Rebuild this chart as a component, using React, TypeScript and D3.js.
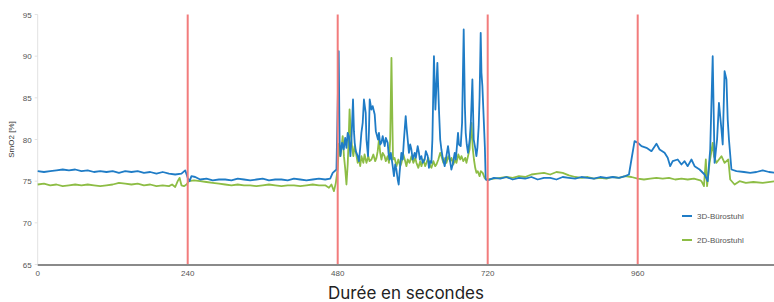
import React from "react";
import * as d3 from "d3";

const xTicks = [0, 240, 480, 720, 960];
const yTicks = [65, 70, 75, 80, 85, 90, 95];
const markers = [240, 480, 720, 960];
const seriesNames = ["3D-Bürostuhl", "2D-Bürostuhl"];

const blueT = [0,10,20,30,40,50,60,70,80,90,100,110,120,130,140,150,160,170,180,190,200,210,220,230,236,240,243,246,252,260,270,280,290,300,310,320,330,340,350,360,370,380,390,400,410,420,430,440,450,460,468,472,478,
481.6,483,484.3,487,489.6,492,494,496,498,500.3,502,504.5,506,507.2,509,512,514,516,517.9,520,522,524.8,526,528.5,530,531.2,533.9,536,539.2,541,544.5,546,548,549.9,552,555.2,557,560,561.5,563.2,565,568,570,572,573.9,576,577.6,579,581.9,584,586,588.8,590,592,594,596,597.9,600,603.2,605,608,610,611.5,613.9,616,619.2,621,624,626,628,629.9,631.5,634,636.3,639.5,642,644,645.9,648,651.2,653,656.5,659,661.9,664,667.2,669,672.5,674,676.8,679,681.6,683.5,684.8,686.5,688.5,691.2,693,695.5,697.6,700,701.9,703.5,705.6,707,708.8,710,711.5,714,715.5,716.8,
720,730,740,750,760,770,780,790,800,810,820,830,840,850,860,870,880,890,900,910,920,930,940,946,950,955,960.5,966,974,982,990,995,1003,1008,1012,1016,1024,1030,1035,1040,1046,1051,1059,1067,1072,1076,1080,1083,1087,1090,1094,1096,1099,1102,1104,1106,1110,1118,1130,1140,1150,1160,1170,1180];
const blueV = [76.2,76.1,76.2,76.3,76.4,76.3,76.4,76.2,76.3,76.1,76.2,76.1,76.2,76.0,76.2,76.1,76.2,76.0,76.1,75.9,76.1,75.9,75.8,75.9,76.3,75.4,75.0,75.6,75.5,75.2,75.3,75.1,75.2,75.2,75.1,75.3,75.2,75.1,75.2,75.3,75.1,75.2,75.2,75.1,75.3,75.2,75.1,75.2,75.3,75.2,75.3,76.0,76.4,
90.6,80.0,78.0,79.6,78.8,80.2,79.0,80.8,80.4,78.0,80.0,84.8,81.0,79.6,78.6,78.0,77.4,79.0,80.8,82.0,84.8,83.2,80.0,78.0,81.0,84.8,83.6,84.0,83.0,81.0,80.0,80.8,79.4,79.6,80.4,79.2,80.2,79.6,78.2,77.6,78.4,76.8,75.6,77.0,76.4,75.2,74.6,76.0,78.4,77.6,80.0,82.8,81.6,80.0,78.4,79.4,78.8,77.6,78.4,77.8,79.2,78.4,77.6,78.0,77.2,77.6,78.6,78.0,76.6,77.4,77.2,80.0,90.0,83.6,89.2,83.6,80.0,78.8,77.8,76.8,77.6,79.2,77.8,76.4,77.0,78.4,77.6,80.8,79.4,79.2,82.0,93.2,84.0,80.8,79.4,78.4,80.0,82.0,87.2,80.0,79.0,78.0,79.0,81.6,85.0,92.8,88.0,86.4,81.8,79.0,75.2,
75.1,75.4,75.3,75.5,75.2,75.4,75.3,75.5,75.2,75.4,75.4,75.2,75.5,75.4,75.3,75.5,75.4,75.3,75.5,75.4,75.5,75.4,75.6,75.8,77.6,79.8,79.6,79.2,79.0,78.6,79.5,78.8,78.4,77.8,76.8,77.4,77.6,77.0,77.4,76.8,77.6,76.8,76.4,75.8,75.0,78.8,90.0,77.2,80.0,84.4,81.2,79.4,88.2,87.2,82.4,80.0,76.4,76.2,76.1,76.0,76.1,76.3,76.1,76.0];

const greenT = [0,10,20,30,40,50,60,70,80,90,100,110,120,130,140,150,160,170,180,190,200,210,215,220,224,227,230,234,238,242,250,260,270,280,290,300,310,320,330,340,350,360,370,380,390,400,410,420,430,440,450,460,466,470,474,477,
480,482,484.3,486,488,490,492,494,496,497.5,499,501,503.5,505,507,509,512,514,516,518,521,523,526,529,531,534,537,540,542,544,546,548,550,552,555,557,560,562,564,566,567.5,568.5,571,574,577,580,582,585,588,590,592,595,598,601,604,606,609,612,614,617,620,622,625,628,630,633,636,638,641,644,646,649,652,654,657,660,662,665,668,670,673,676,678,681,684,686,688.5,691,692.5,694,696,698,700,702,704,707,709,712,715,718,
730,740,750,760,770,780,790,800,810,820,830,840,850,860,870,880,890,900,910,920,930,940,950,960,970,980,990,1000,1010,1020,1030,1040,1050,1060,1062,1066,1069,1071,1075,1080,1082,1086,1090,1094,1099,1105,1108,1115,1123,1133,1145,1160,1180];
const greenV = [74.6,74.7,74.5,74.6,74.4,74.5,74.6,74.5,74.6,74.5,74.4,74.5,74.6,74.8,74.7,74.6,74.7,74.5,74.6,74.4,74.5,74.4,74.6,74.3,75.0,75.4,74.5,74.4,74.6,75.0,75.1,75.0,74.9,74.8,74.7,74.6,74.5,74.6,74.5,74.5,74.4,74.5,74.6,74.5,74.4,74.5,74.5,74.4,74.5,74.6,74.5,74.5,74.2,74.6,73.8,74.8,
76.5,79.5,78.0,79.0,80.4,78.0,76.5,74.6,77.0,80.0,83.6,80.5,78.8,78.0,79.2,78.5,77.2,77.8,76.8,78.0,77.2,78.2,77.2,78.0,77.4,77.6,78.2,77.4,77.8,78.6,80.0,78.4,77.6,78.4,78.0,77.4,78.0,77.2,80.0,89.8,82.0,77.6,77.8,76.8,77.6,76.8,77.2,78.2,77.4,76.8,77.6,77.2,78.0,77.2,77.8,77.2,76.6,77.4,76.8,77.6,76.8,77.2,77.8,76.8,76.6,77.4,76.8,77.0,77.6,78.4,78.0,77.2,77.8,77.2,78.0,77.4,77.8,77.0,77.6,77.2,78.2,77.6,78.0,77.4,77.8,77.2,78.0,78.8,80.5,82.0,79.0,77.6,76.6,76.0,76.2,75.6,76.2,76.0,75.4,75.2,
75.3,75.4,75.5,75.4,75.6,75.5,75.8,75.9,76.0,75.8,76.1,76.0,75.7,75.5,75.4,75.5,75.3,75.4,75.3,75.5,75.4,75.6,75.5,75.3,75.2,75.3,75.4,75.3,75.4,75.2,75.3,75.2,75.3,75.1,75.0,74.4,77.6,74.4,77.2,79.6,78.0,77.2,77.6,78.0,77.2,77.6,75.2,74.6,75.0,74.8,74.9,74.8,75.0];

const W = 774, H = 302;
const BLUE = "#1f7cc6";
const GREEN = "#8dbd45";
const RED = "#f27c7c";

export default function App() {
  const x = d3.scaleLinear().domain([0, 240]).range([37.7, 187.7]);
  const y = d3.scaleLinear().domain([65, 95]).range([264.5, 14.5]);
  const line = d3.line<[number, number]>().x(d => x(d[0])).y(d => y(d[1]));
  const blue = blueT.map((t, i) => [t, blueV[i]] as [number, number]);
  const green = greenT.map((t, i) => [t, greenV[i]] as [number, number]);
  const font = "Liberation Sans, Arial, sans-serif";
  return (
    <div style={{ position: "absolute", left: 0, top: 0 }}>
      <svg width={W} height={H} style={{ display: "block", background: "#fff" }}>
        <line x1={x(0)} x2={x(0)} y1={y(95)} y2={y(65)} stroke="#e2e2e2" strokeWidth={1} />
        {yTicks.map(v => (
          <g key={v}>
            <line x1={x(0) - 3} x2={x(0)} y1={y(v)} y2={y(v)} stroke="#e2e2e2" />
            <text x={x(0) - 6} y={y(v) + 3} fontSize={8} fill="#555" textAnchor="end" fontFamily={font}>{v}</text>
          </g>
        ))}
        <text transform={`translate(14,${y(80)}) rotate(-90)`} fontSize={8} fill="#333" textAnchor="middle" fontFamily={font}>SmO2 [%]</text>
        <path d={line(green) || ""} fill="none" stroke={GREEN} strokeWidth={1.8} strokeLinejoin="round" />
        <path d={line(blue) || ""} fill="none" stroke={BLUE} strokeWidth={1.8} strokeLinejoin="round" />
        {markers.map(m => (
          <line key={m} x1={x(m)} x2={x(m)} y1={y(95)} y2={y(65)} stroke={RED} strokeWidth={2} />
        ))}
        <line x1={x(0)} x2={W} y1={y(65) + 0.5} y2={y(65) + 0.5} stroke="#8a8a8a" strokeWidth={2.2} />
        {xTicks.map(t => (
          <text key={t} x={x(t)} y={276} fontSize={8} fill="#555" textAnchor="middle" fontFamily={font}>{t}</text>
        ))}
        {seriesNames.map((n, i) => (
          <g key={n}>
            <line x1={682} x2={692} y1={216 + i * 24} y2={216 + i * 24} stroke={i === 0 ? BLUE : GREEN} strokeWidth={2} />
            <text x={697} y={219 + i * 24} fontSize={8} fill="#555" fontFamily={font}>{n}</text>
          </g>
        ))}
        <text x={406} y={299} fontSize={17} fill="#222" textAnchor="middle" fontFamily="Inter, Roboto, sans-serif">Durée en secondes</text>
      </svg>
    </div>
  );
}
